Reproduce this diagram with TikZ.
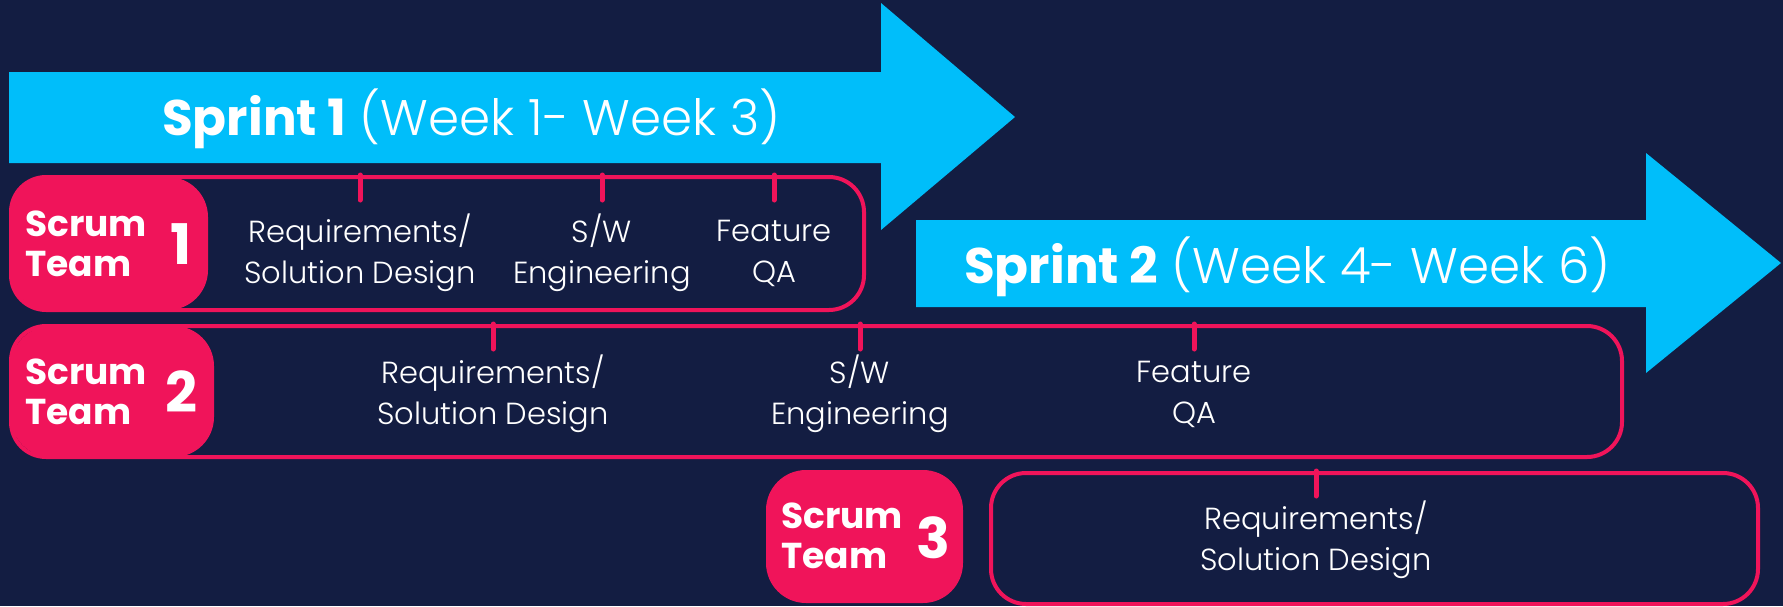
\documentclass[tikz,border=0pt]{standalone}
\usepackage{fontspec}
\setmainfont{Poppins}
\IfFontExistsTF{Poppins Light}{\newfontfamily\thinfont{Poppins Light}}{\newfontfamily\thinfont{Poppins}}
\definecolor{navy}{HTML}{131D42}
\definecolor{sky}{HTML}{00BEFA}
\definecolor{rose}{HTML}{F0145A}
\tikzset{
    sprint/.style={fill=sky},
    sprintlbl/.style={anchor=base west, text=white, inner sep=0pt, font=\fontsize{50}{60}\selectfont},
    teambox/.style={fill=rose, rounded corners=40pt, inner sep=0pt},
    teamlbl/.style={anchor=west, text=white, align=left, inner sep=0pt, font=\bfseries\fontsize{36}{40}\selectfont},
    teamnum/.style={text=white, inner sep=0pt, font=\bfseries\fontsize{56}{60}\selectfont},
    rowbox/.style={draw=rose, line width=4pt, rounded corners=35pt, inner sep=0pt},
    phase/.style={text=white, align=center, inner sep=0pt, font=\thinfont\fontsize{30.5}{41}\selectfont},
    phasetick/.style={draw=rose, line width=5pt, line cap=round},
    }

\begin{document}
\begin{tikzpicture}[x=1pt,y=-1pt]
\fill[navy] (0,0) rectangle (1783,606);
\useasboundingbox (0,0) rectangle (1783,606);
% sprints
\fill[sprint] (9,72) -- (881,72) -- (881,3) -- (1015,117) -- (881,230) -- (881,163) -- (9,163) -- cycle;
\node[sprintlbl] (s1) at (162,135) {\textbf{Sprint 1} {\thinfont(Week 1- Week 3)}};
\fill[sprint] (916,220) -- (1646,220) -- (1646,153) -- (1781,263) -- (1646,373) -- (1646,307) -- (916,307) -- cycle;
\node[sprintlbl] (s2) at (964,283) {\textbf{Sprint 2} {\thinfont(Week 4- Week 6)}};
% team 1
\node[rowbox, minimum width=853pt, minimum height=133pt] (r1) at (437.5,243.5) {};
\node[teambox, minimum width=198pt, minimum height=133pt] (t1) at (109,243.5) {};
\node[teamlbl] (t1l) at (25,244) {Scrum\\Team};
\node[teamnum] (t1n) at (181,244) {1};
\node[phase] (p11) at (360,253) {Requirements/\\Solution Design};
\node[phase] (p12) at (602,253) {S/W\\Engineering};
\node[phase] (p13) at (774,253) {Feature\\QA};
\draw[phasetick] (p11.north |- r1.north) -- ++(0,25);
\draw[phasetick] (p12.north |- r1.north) -- ++(0,25);
\draw[phasetick] (p13.north |- r1.north) -- ++(0,25);
% team 2
\node[rowbox, minimum width=1611pt, minimum height=131pt] (r2) at (816.5,391.5) {};
\node[teambox, minimum width=203pt, minimum height=131pt] (t2) at (112.5,391.5) {};
\node[teamlbl] (t2l) at (25,392) {Scrum\\Team};
\node[teamnum] (t2n) at (181,392) {2};
\node[phase] (p21) at (493,394) {Requirements/\\Solution Design};
\node[phase] (p22) at (860,394) {S/W\\Engineering};
\node[phase] (p23) at (1194,394) {Feature\\QA};
\draw[phasetick] (p21.north |- r2.north) -- ++(0,25);
\draw[phasetick] (p22.north |- r2.north) -- ++(0,25);
\draw[phasetick] (p23.north |- r2.north) -- ++(0,25);
% team 3
\node[teambox, minimum width=197pt, minimum height=133pt] (t3) at (864.5,536.5) {};
\node[teamlbl] (t3l) at (781,536) {Scrum\\Team};
\node[teamnum] (t3n) at (933,538) {3};
\node[rowbox, minimum width=767pt, minimum height=131pt] (r3) at (1374.5,538.5) {};
\node[phase] (p31) at (1316,540) {Requirements/\\Solution Design};
\draw[phasetick] (p31.north |- r3.north) -- ++(0,25);
\end{tikzpicture}
\end{document}
